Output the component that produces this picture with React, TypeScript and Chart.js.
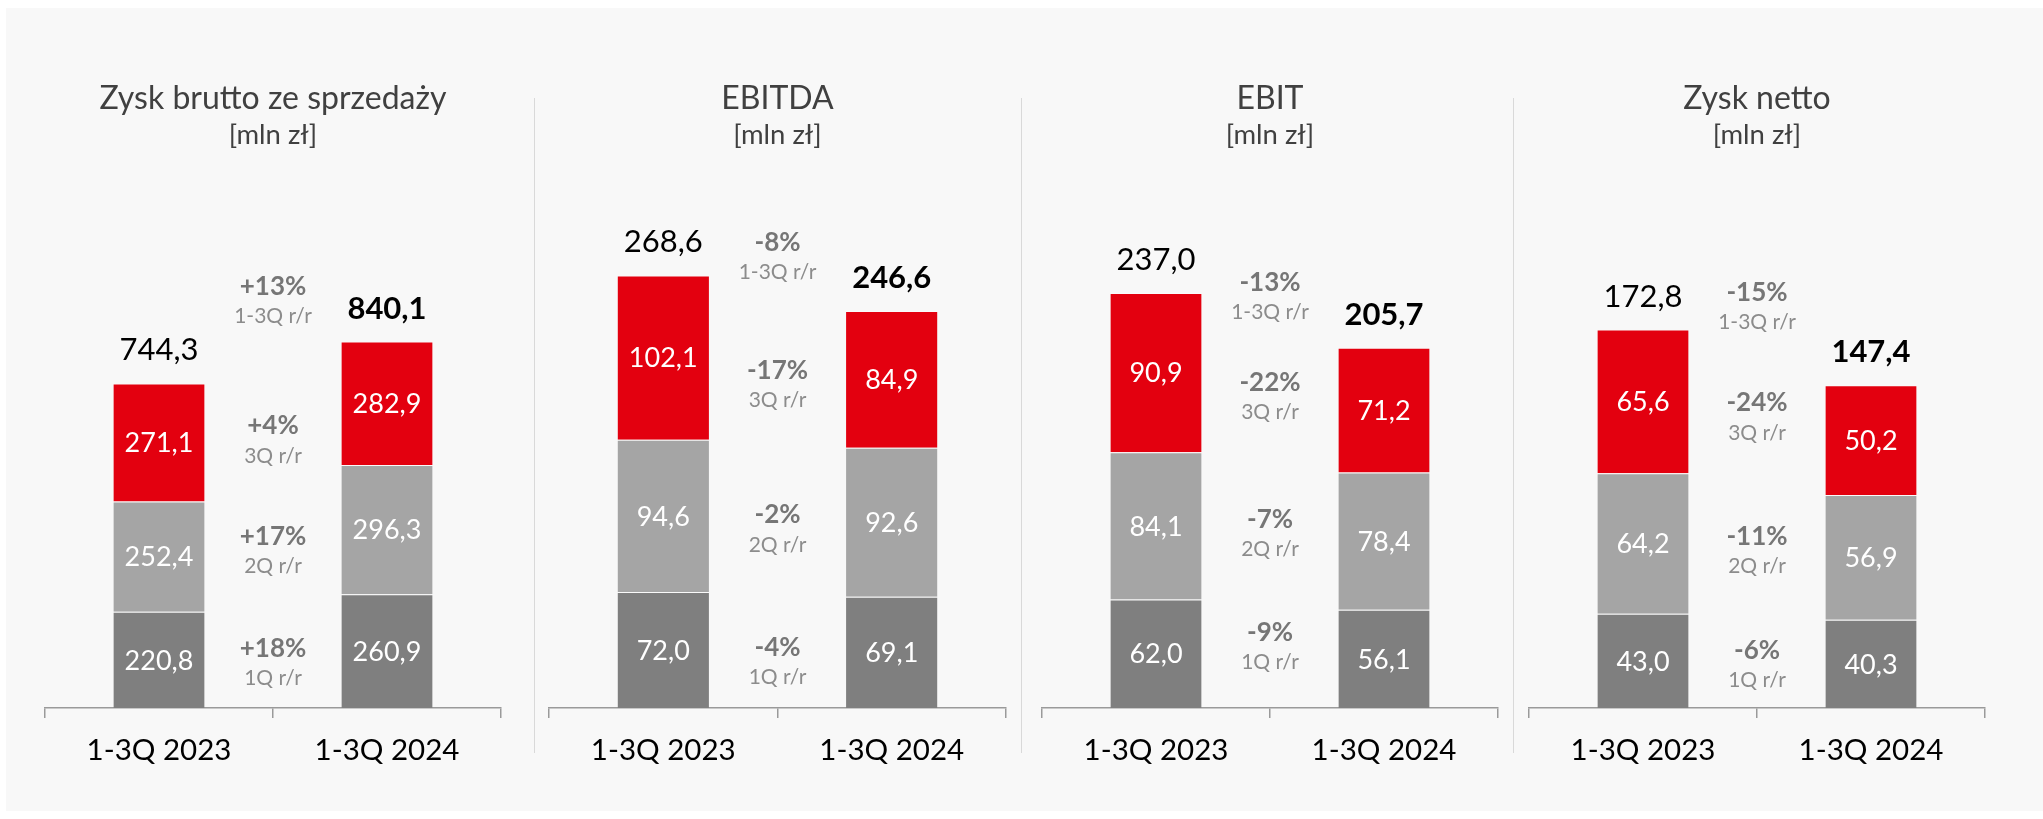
import React, { useEffect, useRef } from "react";
import { Chart, registerables } from "chart.js";

Chart.register(...registerables);

// ---------- DATA ----------
const categories = ["1-3Q 2023", "1-3Q 2024"];
const chartTitles = ["Zysk brutto ze sprzedaży", "EBITDA", "EBIT", "Zysk netto"];
const unitLabel = "[mln zł]";

const q1Values = [
  [220.8, 260.9],
  [72.0, 69.1],
  [62.0, 56.1],
  [43.0, 40.3],
];
const q2Values = [
  [252.4, 296.3],
  [94.6, 92.6],
  [84.1, 78.4],
  [64.2, 56.9],
];
const q3Values = [
  [271.1, 282.9],
  [102.1, 84.9],
  [90.9, 71.2],
  [65.6, 50.2],
];
const totals = [
  [744.3, 840.1],
  [268.6, 246.6],
  [237.0, 205.7],
  [172.8, 147.4],
];

const yoyTotal = ["+13%", "-8%", "-13%", "-15%"];
const yoyQ3 = ["+4%", "-17%", "-22%", "-24%"];
const yoyQ2 = ["+17%", "-2%", "-7%", "-11%"];
const yoyQ1 = ["+18%", "-4%", "-9%", "-6%"];
const yoySubLabels = ["1-3Q r/r", "3Q r/r", "2Q r/r", "1Q r/r"];

const yAxisMax = [1276, 345.7, 317.8, 254.1];

// ---------- STYLE / LAYOUT ----------
const FONT = "Lato";
const COLORS = { q1: "#7f7f7f", q2: "#a5a5a5", q3: "#e3000f" };
const panels = [
  { left: 6, width: 528, padL: 39, padR: 33 },
  { left: 534, width: 487, padL: 15, padR: 15 },
  { left: 1021, width: 492, padL: 21, padR: 15 },
  { left: 1513, width: 530, padL: 16, padR: 58 },
];
// manual nudges (px) of the y/y annotations [1-3Q, 3Q, 2Q, 1Q], as placed on the original slide
const yoyNudge = [
  [-25, 17, 7, 7],
  [0, 16, 10, 10],
  [13, 5, 0, -10],
  [-14, -4, 0, 2],
];
const dividerXs = [534, 1021, 1513];
const CANVAS_TOP = 8;
const CANVAS_H = 803;

const fmt = (v: number) => v.toFixed(1).replace(".", ",");

const labelsPlugin = {
  id: "barLabels",
  afterDatasetsDraw(chart: any, _args: any, opts: any) {
    const idx: number = opts.idx;
    const ctx = chart.ctx;
    const metas = [0, 1, 2].map((i) => chart.getDatasetMeta(i));
    ctx.save();
    ctx.textAlign = "center";
    ctx.textBaseline = "middle";

    // values inside segments
    ctx.fillStyle = "#ffffff";
    ctx.font = `27px ${FONT}`;
    metas.forEach((m: any, di: number) => {
      m.data.forEach((bar: any, j: number) => {
        const v = chart.data.datasets[di].data[j];
        ctx.fillText(fmt(v), bar.x, (bar.y + bar.base) / 2 + 1);
      });
    });

    // totals above bars
    const tops = metas[2].data.map((b: any) => b.y);
    metas[2].data.forEach((bar: any, j: number) => {
      ctx.font = `${j === 1 ? "bold " : ""}31px ${FONT}`;
      ctx.fillStyle = "#000000";
      ctx.fillText(fmt(totals[idx][j]), bar.x, bar.y - 33);
    });

    // y/y labels between bars
    const midX = (metas[0].data[0].x + metas[0].data[1].x) / 2;
    const segMid = (m: any) =>
      (m.data[0].y + m.data[0].base + m.data[1].y + m.data[1].base) / 4;
    const nud = yoyNudge[idx];
    const pairs: [string, string, number][] = [
      [yoyTotal[idx], yoySubLabels[0], (tops[0] + tops[1]) / 2 - 37 + nud[0]],
      [yoyQ3[idx], yoySubLabels[1], segMid(metas[2]) + nud[1]],
      [yoyQ2[idx], yoySubLabels[2], segMid(metas[1]) + nud[2]],
      [yoyQ1[idx], yoySubLabels[3], segMid(metas[0]) + nud[3]],
    ];
    pairs.forEach(([main, sub, c]) => {
      ctx.font = `bold 26px ${FONT}`;
      ctx.fillStyle = "#767676";
      ctx.fillText(main, midX, c - 14);
      ctx.font = `21px ${FONT}`;
      ctx.fillStyle = "#8c8c8c";
      ctx.fillText(sub, midX, c + 16);
    });
    ctx.restore();
  },
};

function ProfitChart({ idx }: { idx: number }) {
  const ref = useRef<HTMLCanvasElement | null>(null);
  useEffect(() => {
    if (!ref.current) return;
    const p = panels[idx];
    const segBorder = { top: 1, left: 0, right: 0, bottom: 0 };
    const chart = new Chart(ref.current, {
      type: "bar",
      data: {
        labels: categories,
        datasets: [
          { label: "1Q", data: q1Values[idx], backgroundColor: COLORS.q1, borderColor: "rgba(255,255,255,0.3)", borderWidth: segBorder, borderSkipped: false },
          { label: "2Q", data: q2Values[idx], backgroundColor: COLORS.q2, borderColor: "rgba(255,255,255,0.3)", borderWidth: segBorder, borderSkipped: false },
          { label: "3Q", data: q3Values[idx], backgroundColor: COLORS.q3, borderColor: "rgba(255,255,255,0.3)", borderWidth: segBorder, borderSkipped: false },
        ],
      },
      options: {
        responsive: false,
        animation: false,
        events: [],
        layout: { padding: { left: p.padL, right: p.padR, top: 0, bottom: 29 } },
        datasets: { bar: { barPercentage: 0.4, categoryPercentage: 1 } },
        scales: {
          x: {
            stacked: true,
            offset: true,
            grid: {
              display: true,
              drawOnChartArea: false,
              drawTicks: true,
              tickLength: 10,
              offset: true,
              color: "#9a9a9a",
              lineWidth: 1.5,
            },
            border: { display: true, color: "#9a9a9a", width: 1.5 },
            ticks: { color: "#000000", font: { size: 29.5, family: FONT }, padding: 14.3 },
          },
          y: { stacked: true, display: false, min: 0, max: yAxisMax[idx] },
        },
        plugins: {
          legend: { display: false },
          tooltip: { enabled: false },
          title: {
            display: true,
            text: chartTitles[idx],
            color: "#404040",
            font: { size: 32, weight: "normal", family: FONT },
            padding: { top: 71.3, bottom: 0 },
          },
          subtitle: {
            display: true,
            text: unitLabel,
            color: "#404040",
            font: { size: 27.5, weight: "normal", family: FONT },
            padding: { top: 0.8, bottom: 0 },
          },
          barLabels: { idx },
        } as any,
      },
      plugins: [labelsPlugin],
    });
    return () => chart.destroy();
  }, [idx]);
  const p = panels[idx];
  return (
    <canvas
      ref={ref}
      width={p.width}
      height={CANVAS_H}
      style={{ position: "absolute", left: p.left, top: CANVAS_TOP, width: p.width, height: CANVAS_H, display: "block" }}
    />
  );
}

export default function App() {
  Chart.defaults.font.family = FONT;
  return (
    <div style={{ position: "absolute", left: 0, top: 0, width: 2043, height: 819, background: "#ffffff", overflow: "hidden" }}>
      <div style={{ position: "absolute", left: 6, top: 8, width: 2037, height: 803, background: "#f8f8f8" }} />
      {dividerXs.map((x) => (
        <div key={x} style={{ position: "absolute", left: x, top: 98, width: 1, height: 655, background: "#d9d9d9" }} />
      ))}
      {chartTitles.map((_, i) => (
        <ProfitChart key={i} idx={i} />
      ))}
    </div>
  );
}
